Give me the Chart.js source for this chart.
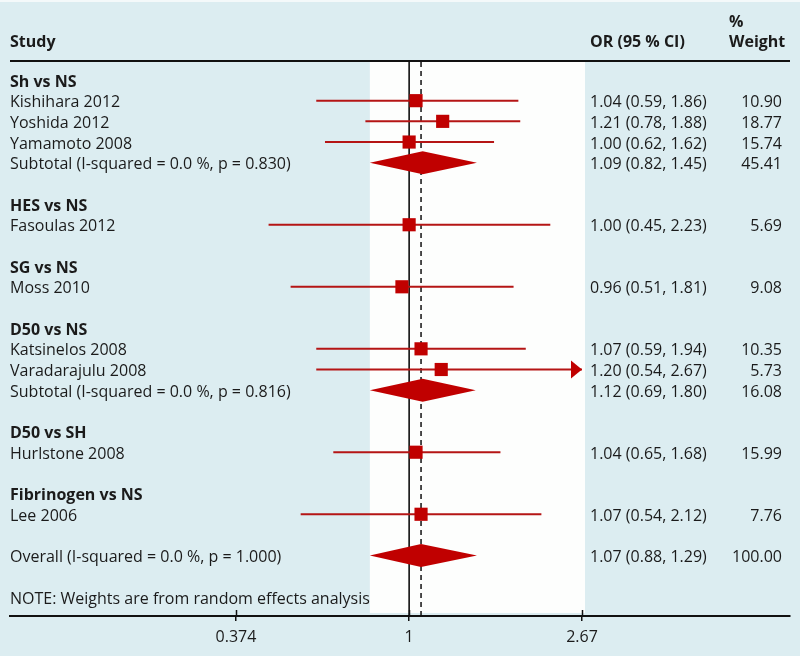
<!DOCTYPE html>
<html>
<head>
<meta charset="utf-8">
<script src="https://cdn.jsdelivr.net/npm/chart.js@4.4.1/dist/chart.umd.min.js"></script>
<style>
html,body{margin:0;padding:0;background:#dcedf1;}
#wrap{width:800px;height:656px;position:relative;}
canvas{display:block;}
</style>
</head>
<body>
<div id="wrap"><canvas id="c" width="800" height="656"></canvas></div>
<script>
// ---------------- DATA ----------------
const groupNames = ['Sh vs NS', 'HES vs NS', 'SG vs NS', 'D50 vs NS', 'D50 vs SH', 'Fibrinogen vs NS'];
const groupRows = [0, 6, 9, 12, 17, 20];

const studyNames = ['Kishihara 2012', 'Yoshida 2012', 'Yamamoto 2008', 'Fasoulas 2012', 'Moss 2010',
                    'Katsinelos 2008', 'Varadarajulu 2008', 'Hurlstone 2008', 'Lee 2006'];
const studyRows = [1, 2, 3, 7, 10, 13, 14, 18, 21];
const studyOR = [1.04, 1.21, 1.00, 1.00, 0.96, 1.07, 1.20, 1.04, 1.07];
const studyLow = [0.59, 0.78, 0.62, 0.45, 0.51, 0.59, 0.59, 0.65, 0.54];
const studyHigh = [1.86, 1.88, 1.62, 2.23, 1.81, 1.94, 2.67, 1.68, 2.12];
const studyArrow = [false, false, false, false, false, false, true, false, false];
const studyCIText = ['1.04 (0.59, 1.86)', '1.21 (0.78, 1.88)', '1.00 (0.62, 1.62)', '1.00 (0.45, 2.23)',
                     '0.96 (0.51, 1.81)', '1.07 (0.59, 1.94)', '1.20 (0.54, 2.67)', '1.04 (0.65, 1.68)',
                     '1.07 (0.54, 2.12)'];
const studyWeight = ['10.90', '18.77', '15.74', '5.69', '9.08', '10.35', '5.73', '15.99', '7.76'];

const pooledNames = ['Subtotal (I-squared = 0.0 %, p = 0.830)', 'Subtotal (I-squared = 0.0 %, p = 0.816)',
                     'Overall (I-squared = 0.0 %, p = 1.000)'];
const pooledRows = [4, 15, 23];
const pooledMid = [1.08, 1.08, 1.07];
const pooledLow = [0.80, 0.80, 0.80];
const pooledHigh = [1.47, 1.46, 1.47];
const pooledCIText = ['1.09 (0.82, 1.45)', '1.12 (0.69, 1.80)', '1.07 (0.88, 1.29)'];
const pooledWeight = ['45.41', '16.08', '100.00'];

const overallOR = 1.07;
const noteText = 'NOTE: Weights are from random effects analysis';
const noteRow = 25;

const xTickValues = [0.374, 1, 2.67];
const xTickLabels = ['0.374', '1', '2.67'];

// ---------------- STYLE ----------------
const FONT = '"Open Sans", "Noto Sans", sans-serif';
const TXT = '#1b1b1b';
const RED = '#c00000';
const RED_LINE = '#b51515';
const BLUE = '#dcedf1';

const Y_MIN = -0.87, Y_MAX = 25.92;
const X_MIN = 0.10357, X_MAX = 8.704;
const TEXT_DY = 2;

function ciDataset(i) {
  return {
    type: 'scatter', showLine: true, pointRadius: 0, borderColor: RED_LINE, borderWidth: 2,
    data: [{x: studyLow[i], y: studyRows[i]}, {x: studyHigh[i], y: studyRows[i]}]
  };
}

const datasets = [];
datasets.push({
  type: 'scatter', pointStyle: 'rect', pointRadius: 9.3, pointHoverRadius: 9.3,
  backgroundColor: RED, borderWidth: 0,
  data: studyOR.map((v, i) => ({x: v, y: studyRows[i]}))
});
studyNames.forEach((_, i) => datasets.push(ciDataset(i)));
datasets.push({
  type: 'scatter', showLine: true, pointRadius: 0, borderColor: '#111', borderWidth: 1.5,
  borderDash: [5, 4],
  data: [{x: overallOR, y: Y_MIN}, {x: overallOR, y: Y_MAX}]
});
datasets.push({
  type: 'scatter', showLine: true, pointRadius: 0, borderColor: '#000', borderWidth: 1.5,
  data: [{x: 1, y: Y_MIN}, {x: 1, y: Y_MAX}]
});

const forestPlugin = {
  id: 'forest',
  beforeDraw(chart) {
    const {ctx, chartArea, scales} = chart;
    ctx.save();
    ctx.fillStyle = BLUE;
    ctx.fillRect(0, 0, chart.width, chart.height);
    ctx.fillStyle = '#f4f9fa';
    ctx.fillRect(0, 0, chart.width, 2);
    const x0 = scales.x.getPixelForValue(0.80);
    const x1 = scales.x.getPixelForValue(2.67) + 3;
    ctx.fillStyle = '#fdfefd';
    ctx.fillRect(x0, chartArea.top, x1 - x0, chartArea.bottom - chartArea.top - 3);
    ctx.restore();
  },
  afterDatasetsDraw(chart) {
    const {ctx, scales} = chart;
    const xs = scales.x, ys = scales.y;
    ctx.save();
    ctx.fillStyle = RED;
    pooledRows.forEach((r, i) => {
      const yc = ys.getPixelForValue(r);
      const h = 11.5;
      ctx.beginPath();
      ctx.moveTo(xs.getPixelForValue(pooledLow[i]), yc);
      ctx.lineTo(xs.getPixelForValue(pooledMid[i]), yc - h);
      ctx.lineTo(xs.getPixelForValue(pooledHigh[i]), yc);
      ctx.lineTo(xs.getPixelForValue(pooledMid[i]), yc + h);
      ctx.closePath();
      ctx.fill();
    });
    studyArrow.forEach((a, i) => {
      if (!a) return;
      const tip = xs.getPixelForValue(studyHigh[i]);
      const yc = ys.getPixelForValue(studyRows[i]);
      ctx.beginPath();
      ctx.moveTo(tip, yc);
      ctx.lineTo(tip - 11, yc - 9);
      ctx.lineTo(tip - 11, yc + 9);
      ctx.closePath();
      ctx.fill();
    });
    ctx.restore();
  },
  afterDraw(chart) {
    const {ctx, chartArea, scales} = chart;
    const xs = scales.x, ys = scales.y;
    ctx.save();
    // header rule
    ctx.strokeStyle = '#111';
    ctx.lineWidth = 2;
    ctx.beginPath();
    ctx.moveTo(chartArea.left, chartArea.top - 1);
    ctx.lineTo(chartArea.right, chartArea.top - 1);
    ctx.stroke();
    // upper half of tick marks
    ctx.lineWidth = 1.5;
    xTickValues.forEach(v => {
      const px = Math.round(xs.getPixelForValue(v)) + 0.5;
      ctx.beginPath();
      ctx.moveTo(px, chartArea.bottom - 6);
      ctx.lineTo(px, chartArea.bottom);
      ctx.stroke();
    });

    const colLeft = chartArea.left;
    const colCI = 590;
    const colW = 782;
    const colWHead = 729;
    ctx.fillStyle = TXT;
    ctx.textBaseline = 'middle';
    const normal = '16px ' + FONT;
    const bold = 'bold 16px ' + FONT;
    const put = (txt, x, row, font, align) => {
      ctx.font = font; ctx.textAlign = align;
      ctx.fillText(txt, x, ys.getPixelForValue(row) + TEXT_DY);
    };
    // headers
    put('Study', colLeft, -1.89, bold, 'left');
    put('OR (95 % CI)', colCI, -1.89, bold, 'left');
    put('%', colWHead, -2.9, bold, 'left');
    put('Weight', colWHead, -1.89, bold, 'left');
    groupNames.forEach((g, i) => put(g, colLeft, groupRows[i], bold, 'left'));
    studyNames.forEach((s, i) => {
      put(s, colLeft, studyRows[i], normal, 'left');
      put(studyCIText[i], colCI, studyRows[i], normal, 'left');
      put(studyWeight[i], colW, studyRows[i], normal, 'right');
    });
    pooledNames.forEach((s, i) => {
      put(s, colLeft, pooledRows[i], normal, 'left');
      put(pooledCIText[i], colCI, pooledRows[i], normal, 'left');
      put(pooledWeight[i], colW, pooledRows[i], normal, 'right');
    });
    put(noteText, colLeft, noteRow, normal, 'left');
    ctx.restore();
  }
};

function build() {
  new Chart(document.getElementById('c'), {
    type: 'scatter',
    data: {datasets},
    options: {
      responsive: false,
      animation: false,
      devicePixelRatio: 1,
      layout: {padding: {left: 10, right: 10, top: 62, bottom: 0}},
      plugins: {legend: {display: false}, tooltip: {enabled: false}},
      events: [],
      scales: {
        x: {
          type: 'logarithmic', min: X_MIN, max: X_MAX, bounds: 'data',
          afterBuildTicks: s => { s.ticks = xTickValues.map(v => ({value: v})); },
          afterFit: s => { s.height = 40; },
          ticks: {
            autoSkip: false, maxRotation: 0, padding: 7,
            color: TXT, font: {family: FONT, size: 16},
            callback: (v, i) => xTickLabels[i]
          },
          grid: {display: true, drawOnChartArea: false, drawTicks: true, tickLength: 5, color: '#111', lineWidth: 1.5},
          border: {display: true, color: '#111', width: 2}
        },
        y: {type: 'linear', reverse: true, min: Y_MIN, max: Y_MAX, display: false}
      }
    },
    plugins: [forestPlugin]
  });
}
if (document.fonts && document.fonts.load) {
  Promise.all([document.fonts.load('16px "Open Sans"'), document.fonts.load('bold 16px "Open Sans"')])
    .then(build, build);
} else { build(); }
</script>
</body>
</html>
